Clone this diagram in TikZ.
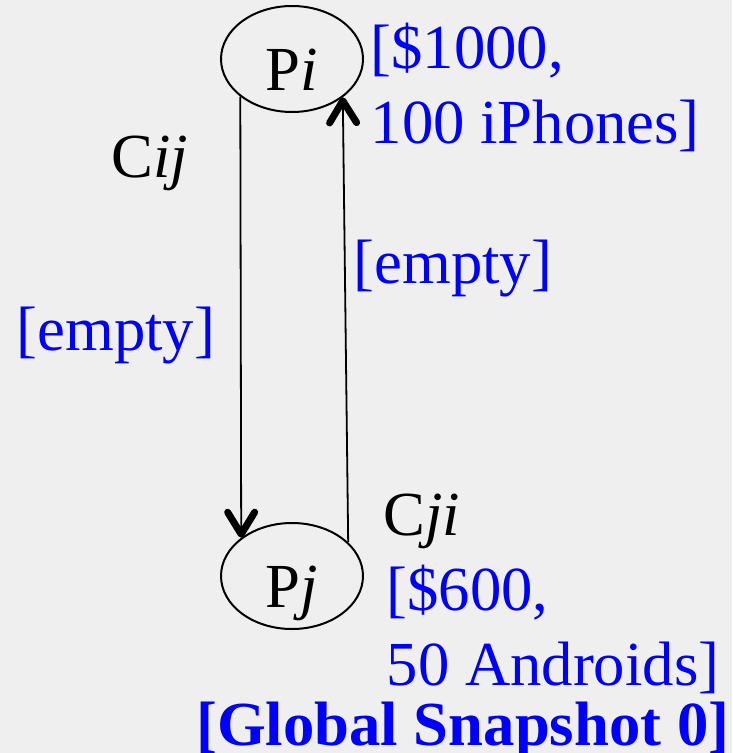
\documentclass[tikz,border=0pt]{standalone}
\usepackage{fontspec}
\setmainfont{Liberation Serif}
\usetikzlibrary{arrows.meta,shapes.geometric}
\definecolor{SnapBlue}{RGB}{0,0,255}
\definecolor{SlideGray}{RGB}{239,239,239}
\tikzset{
  procnode/.style={ellipse, draw=black, line width=2pt, minimum width=142pt, minimum height=106pt, inner sep=0pt, text height=63pt, text depth=0pt},
  channame/.style={anchor=base west, inner sep=0pt},
  chanstate/.style={anchor=base west, inner sep=0pt, text=SnapBlue, align=left},
  chanarrow/.style={line width=1.8pt, -{Straight Barb[length=22pt, width=27pt, line width=7pt 0, round]}},
}

\begin{document}
\begin{tikzpicture}[x=1pt, y=-1pt, every node/.style={font=\fontsize{62.7}{75}\selectfont}]
      \useasboundingbox (0,0) rectangle (732,753);
      \fill[SlideGray] (0,0) rectangle (732,753);

      \node[procnode] (Pi) at (292,59) {P\textit{i}};
      \node[procnode] (Pj) at (292,576) {P\textit{j}};

      \draw[chanarrow] (Pi.216.7)--(Pj.143.3);
      \draw[chanarrow] (Pj.31.8)--(Pi.323.8);

      \node[channame] (Cij) at (111,177) {C\textit{ij}};
      \node[channame] (Cji) at (383,535) {C\textit{ji}};

      \node[chanstate] (Eij) at (16.5,350) {[empty]};
      \node[chanstate] (Eji) at (353.5,283) {[empty]};
      \node[chanstate] (Si) at (370.5,143) {[\$1000,\\100 iPhones]};
      \node[chanstate] (Sj) at (386.5,685) {[\$600,\\50 Androids]};

      \node[chanstate] (Snap) at (196,745) {\textbf{[Global Snapshot 0]}};
    \end{tikzpicture}
\end{document}
